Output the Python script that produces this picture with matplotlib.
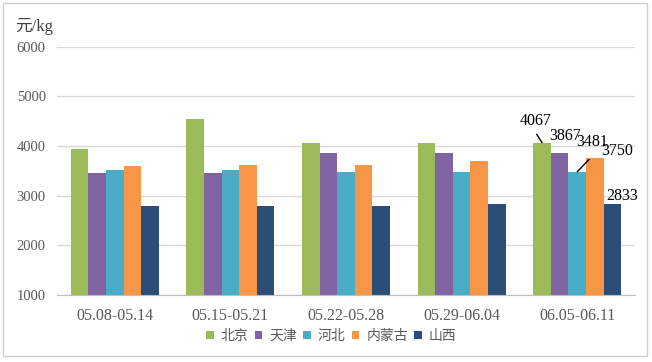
import numpy as np
import matplotlib
matplotlib.use('Agg')
import matplotlib.pyplot as plt
from matplotlib.patches import Rectangle

# data
weeks = ['05.08-05.14', '05.15-05.21', '05.22-05.28', '05.29-06.04', '06.05-06.11']
regions = ['北京', '天津', '河北', '内蒙古', '山西']
beijing = [3950, 4540, 4067, 4067, 4067]
tianjin = [3450, 3450, 3867, 3867, 3867]
hebei = [3510, 3510, 3481, 3481, 3481]
neimenggu = [3590, 3625, 3625, 3705, 3750]
shanxi = [2800, 2800, 2800, 2833, 2833]
colors = ['#9BBB59', '#8064A2', '#4BACC6', '#F79646', '#2C4D75']

series = [beijing, tianjin, hebei, neimenggu, shanxi]

plt.rcParams['font.family'] = ['Liberation Serif', 'Noto Sans CJK SC', 'DejaVu Sans']

fig = plt.figure(figsize=(6.52, 3.62), dpi=100)
ax = fig.add_axes([0.0874, 0.185, 0.8866, 0.686])

x = np.arange(len(weeks))
w = 0.152
bars = []
for i, (vals, c, name) in enumerate(zip(series, colors, regions)):
    b = ax.bar(x + (i - 2) * w, vals, width=w, color=c, label=name, zorder=2)
    bars.append(b)

ax.set_ylim(1000, 6000)
ax.set_xlim(-0.5, 4.5)
ax.set_yticks([1000, 2000, 3000, 4000, 5000, 6000])
ax.yaxis.grid(True, color='#D9D9D9', linewidth=1, zorder=0)
ax.set_axisbelow(True)
for s in ['top', 'right', 'left']:
    ax.spines[s].set_visible(False)
ax.spines['bottom'].set_color('#BFBFBF')
ax.tick_params(axis='both', length=0, labelcolor='#595959')
ax.tick_params(axis='y', pad=8, labelsize=10.5)
ax.tick_params(axis='x', pad=9, labelsize=11.5)
ax.set_xticks(x)
ax.set_xticklabels(weeks)

# labels on the last group only: text offset (px) and leader start (bbox fraction)
offsets = [(-6, 22, (0.52, -0.35)), (5, 17, None), (15, 30, (0.4, -0.6)), (22, 7, None), (10, 8, None)]
for i, (dx, dy, rel) in enumerate(offsets):
    rect = bars[i][-1]
    bx = rect.get_x() + rect.get_width() / 2
    by = rect.get_height()
    arrow = None
    if rel is not None:
        arrow = dict(arrowstyle='-', color='black', lw=1, shrinkA=0, shrinkB=0, relpos=rel)
    ax.annotate(str(series[i][-1]), xy=(bx, by), xytext=(dx, dy), textcoords='offset pixels',
                ha='center', va='center', fontsize=11.5, color='black', arrowprops=arrow)

fig.text(0.024, 0.928, '元/kg', fontsize=12, color='#404040', ha='left', va='center')

fig.legend(loc='center', bbox_to_anchor=(0.508, 0.072), ncol=5, frameon=False,
           handlelength=0.55, handleheight=0.55, handletextpad=0.5, columnspacing=0.45,
           prop={'family': ['Noto Sans CJK SC'], 'size': 10}, labelcolor='#595959')

fig.patches.append(Rectangle((0.005, 0.017), 0.987, 0.974, transform=fig.transFigure,
                             fill=False, edgecolor='#D0D0D0', linewidth=1))

fig.savefig('out.png', dpi=100)
